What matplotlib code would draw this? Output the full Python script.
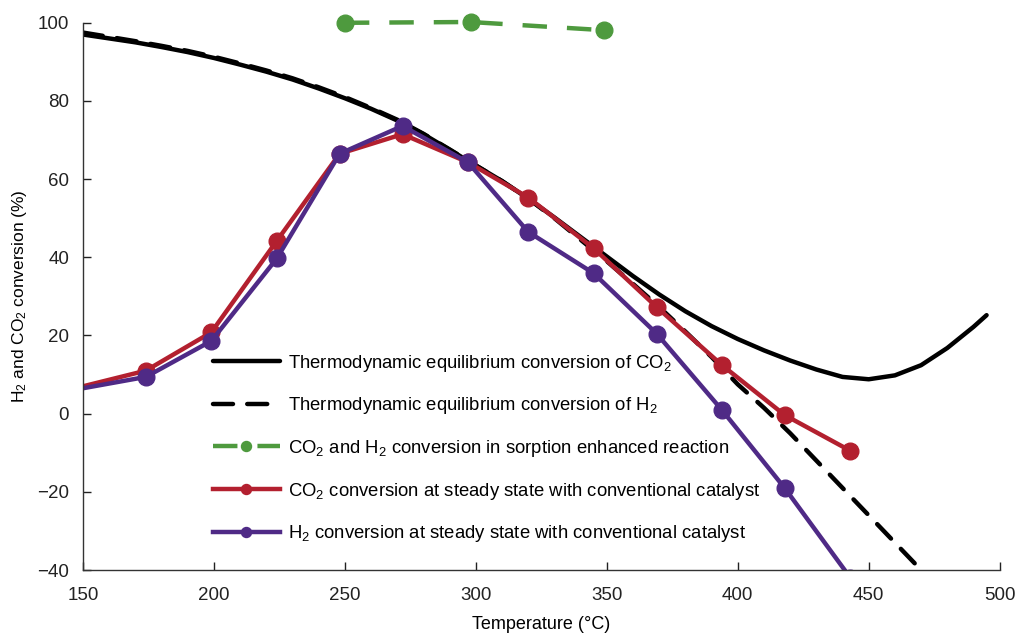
import matplotlib
matplotlib.use("Agg")
import matplotlib.pyplot as plt

plt.rcParams["font.family"] = ["Liberation Sans", "DejaVu Sans"]
plt.rcParams["mathtext.fontset"] = "custom"
plt.rcParams["mathtext.rm"] = "Liberation Sans"
plt.rcParams["mathtext.it"] = "Liberation Sans"

# thermodynamic equilibrium curves
eq_co2_t = [150, 160, 170, 180, 190, 200, 210, 220, 230, 240, 250, 260, 270, 280, 290, 300,
            310, 320, 330, 340, 350, 360, 370, 380, 390, 400, 410, 420, 430, 440, 450, 460,
            470, 480, 490, 495]
eq_co2 = [97, 96, 95, 93.8, 92.5, 91, 89.3, 87.5, 85.5, 83.2, 80.7, 78, 75, 71.5, 67.5, 63.5,
          59.5, 55, 50.2, 45.2, 40.2, 35.2, 30.5, 26.2, 22.4, 19.1, 16.2, 13.6, 11.3, 9.4,
          8.8, 9.8, 12.4, 16.8, 22.2, 25.2]
eq_h2_t = [150, 160, 170, 180, 190, 200, 210, 220, 230, 240, 250, 260, 270, 280, 290, 300,
           310, 320, 330, 340, 350, 360, 370, 380, 390, 400, 410, 420, 430, 440, 450, 460, 470]
eq_h2 = [97.5, 96.4, 95.3, 94.1, 92.8, 91.3, 89.6, 87.8, 85.8, 83.5, 81, 78.2, 75.2, 71.6,
         67.6, 63.5, 59.5, 55, 50, 44.5, 39, 33.2, 27.3, 21, 14.5, 7.5, 1.5, -5, -12, -19,
         -26, -33, -40]

# sorption enhanced reaction
sorp_t = [250, 298, 349]
sorp = [100, 100.2, 98.1]

# steady state with conventional catalyst (first point at 150 has no marker)
ss_t = [150, 174, 199, 224, 248, 272, 297, 320, 345, 369, 394, 418, 443]
ss_co2 = [7, 11, 20.8, 44.2, 66.5, 71.5, 64.3, 55.3, 42.3, 27.3, 12.4, -0.4, -9.5]
ss_h2 = [6.5, 9.4, 18.6, 39.7, 66.5, 73.6, 64.3, 46.5, 35.9, 20.5, 0.9, -19.1, -42]

RED = "#B3202F"
PURPLE = "#4F2A86"
GREEN = "#4E9A3E"

fig = plt.figure(figsize=(10.18, 6.33), dpi=100)
ax = fig.add_axes([0.0815, 0.0995, 0.9005, 0.8645])

ax.plot(eq_co2_t, eq_co2, color="black", lw=3.2, solid_capstyle="round",
        label="Thermodynamic equilibrium conversion of CO$_2$")
ax.plot(eq_h2_t, eq_h2, color="black", lw=3.2, ls=(0, (4.5, 3.2)), dash_capstyle="round",
        label="Thermodynamic equilibrium conversion of H$_2$")
ax.plot(sorp_t, sorp, color=GREEN, lw=3.2, ls=(0, (5.5, 4.5)), marker="o", ms=12,
        clip_on=False, zorder=5,
        label="CO$_2$ and H$_2$ conversion in sorption enhanced reaction")
ax.plot(ss_t, ss_co2, color=RED, lw=3.2, marker="o", ms=12, markevery=range(1, len(ss_t)),
        label="CO$_2$ conversion at steady state with conventional catalyst")
ax.plot(ss_t, ss_h2, color=PURPLE, lw=3.2, marker="o", ms=12, markevery=range(1, len(ss_t)),
        label="H$_2$ conversion at steady state with conventional catalyst")

ax.set_xlim(150, 500)
ax.set_ylim(-40, 100)
ax.set_xticks(range(150, 501, 50))
ax.set_yticks(range(-40, 101, 20))
ax.set_yticklabels(["\u221240", "\u221220", "0", "20", "40", "60", "80", "100"])
ax.tick_params(direction="in", length=6, width=1, labelsize=13.5, colors="#222222")
ax.tick_params(axis="y", pad=10)
ax.tick_params(axis="x", pad=12)
for s in ("top", "right"):
    ax.spines[s].set_visible(False)
for s in ("left", "bottom"):
    ax.spines[s].set_linewidth(1)
    ax.spines[s].set_color("#333333")

ax.set_xlabel("Temperature (\u00b0C)", fontsize=13, labelpad=9)
ax.set_ylabel("H$_2$ and CO$_2$ conversion (%)", fontsize=12.5, labelpad=6)

leg = ax.legend(loc="upper left", bbox_to_anchor=(0.132, 0.414), frameon=False,
                fontsize=13.3, handlelength=3.6, handletextpad=0.45, labelspacing=1.17,
                markerscale=0.6, borderpad=0)

fig.savefig("out.png", dpi=100)
